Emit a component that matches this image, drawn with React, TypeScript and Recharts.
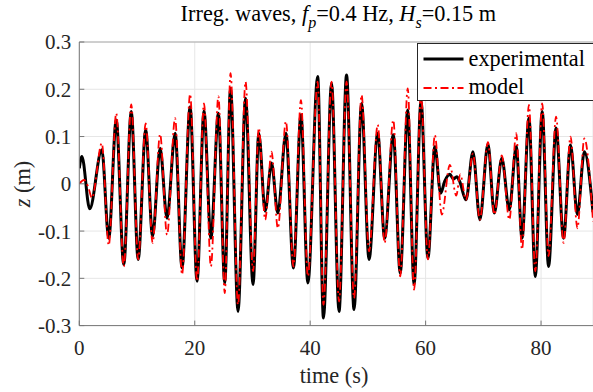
import React from 'react';
import { LineChart, Line, XAxis, YAxis, CartesianGrid, ReferenceLine, Legend } from 'recharts';

const expT = [0.0, 0.45, 1.8, 3.9, 5.1, 6.4, 7.7, 9.0, 10.2, 11.5, 12.7, 14.0, 15.2, 16.6, 17.8, 19.2, 20.4, 21.6, 22.8, 24.1, 25.2, 26.2, 27.5, 28.8, 30.1, 31.1, 32.2, 33.3, 34.4, 35.8, 37.1, 38.4, 39.6, 41.3, 42.3, 43.7, 45.0, 46.3, 47.6, 48.9, 50.2, 51.7, 52.9, 54.4, 55.6, 56.9, 58.0, 59.2, 60.4, 61.6, 62.6, 63.3, 64.2, 64.8, 65.4, 65.9, 67.0, 68.2, 69.4, 70.8, 71.9, 73.2, 74.5, 75.7, 76.7, 77.9, 79.0, 80.2, 81.3, 82.6, 83.9, 85.1, 86.3, 87.5, 89.0];
const expZ = [0.033, 0.058, -0.053, 0.072, -0.115, 0.135, -0.171, 0.153, -0.16, 0.114, -0.111, 0.075, -0.073, 0.107, -0.178, 0.163, -0.206, 0.154, -0.115, 0.149, -0.21, 0.202, -0.27, 0.181, -0.213, 0.107, -0.058, 0.044, -0.062, 0.107, -0.178, 0.146, -0.21, 0.227, -0.284, 0.213, -0.27, 0.23, -0.266, 0.17, -0.16, 0.107, -0.115, 0.104, -0.189, 0.156, -0.213, 0.175, -0.157, 0.079, -0.02, 0.005, 0.02, 0.01, 0.015, 0.005, -0.034, 0.068, -0.076, 0.084, -0.062, 0.054, -0.055, 0.079, -0.115, 0.139, -0.196, 0.153, -0.175, 0.118, -0.115, 0.082, -0.065, 0.068, -0.06];

// Model series
const modT = [0.0, 0.8, 1.5, 2.2, 3.9, 5.1, 6.4, 7.7, 9.0, 10.2, 11.5, 12.7, 14.0, 15.2, 16.6, 17.8, 19.2, 20.4, 21.6, 22.8, 24.1, 25.2, 26.2, 27.5, 28.8, 30.1, 31.1, 32.2, 33.3, 34.4, 35.8, 37.1, 38.4, 39.6, 41.3, 42.3, 43.7, 45.0, 46.3, 47.6, 48.9, 50.2, 51.7, 52.9, 54.4, 55.6, 56.9, 58.0, 59.2, 60.4, 61.6, 62.8, 64.2, 65.3, 66.0, 67.0, 68.2, 69.4, 70.8, 71.9, 73.2, 74.5, 75.7, 76.7, 77.9, 79.0, 80.2, 81.3, 82.6, 83.9, 85.1, 86.3, 87.5, 89.0];
const modZ = [0.0, 0.008, -0.005, -0.03, 0.086, -0.13, 0.149, -0.175, 0.168, -0.16, 0.128, -0.125, 0.105, -0.108, 0.139, -0.192, 0.19, -0.206, 0.17, -0.175, 0.185, -0.231, 0.234, -0.256, 0.216, -0.185, 0.118, -0.076, 0.068, -0.094, 0.132, -0.175, 0.177, -0.196, 0.216, -0.256, 0.216, -0.249, 0.216, -0.242, 0.188, -0.143, 0.125, -0.125, 0.135, -0.196, 0.202, -0.224, 0.19, -0.16, 0.103, -0.065, 0.04, -0.025, 0.02, -0.034, 0.064, -0.076, 0.088, -0.065, 0.06, -0.076, 0.107, -0.139, 0.167, -0.185, 0.17, -0.153, 0.142, -0.125, 0.1, -0.094, 0.096, -0.08];

const xTicks = [0, 20, 40, 60, 80];
const yTicks = [-0.3, -0.2, -0.1, 0, 0.1, 0.2, 0.3];
const seriesNames = ['experimental', 'model'];

const expData = expT.map((t, i) => ({ t, z: expZ[i] }));
const modData = modT.map((t, i) => ({ t, z: modZ[i] }));

const FONT = "'Liberation Serif', 'Times New Roman', Times, serif";
const AXIS = '#777777';
const TICKTXT = '#262626';
const DASH = '8 3.5 2 3.5';

const renderLegend = () => (
  <div style={{ width: 200, height: 57.4, boxSizing: 'border-box', border: '1px solid #262626', background: '#fff' }}>
    <svg width={200} height={56} style={{ display: 'block' }}>
      <line x1={5.5} x2={45.5} y1={15} y2={15} stroke="#000" strokeWidth={3} />
      <text x={50.5} y={22.3} fontFamily={FONT} fontSize={22.3} fill="#000">{seriesNames[0]}</text>
      <line x1={5.5} x2={45.5} y1={44} y2={44} stroke="#ff0000" strokeWidth={1.8} strokeDasharray={DASH} />
      <text x={50.5} y={50.3} fontFamily={FONT} fontSize={22.3} fill="#000">{seriesNames[1]}</text>
    </svg>
  </div>
);

export default function App() {
  return (
    <div style={{ position: 'absolute', left: 0, top: 0, width: 593, height: 392, overflow: 'hidden', background: '#fff' }}>
      <LineChart width={593} height={392} margin={{ top: 42, right: 0, bottom: 0, left: 0 }}>
        <CartesianGrid stroke="#e6e6e6" />
        <XAxis
          dataKey="t"
          type="number"
          domain={[0, 89]}
          ticks={xTicks}
          allowDataOverflow
          height={66.4}
          stroke={AXIS}
          tickSize={-5}
          tickMargin={19}
          tick={{ fill: TICKTXT, fontSize: 21, fontFamily: FONT }}
        />
        <YAxis
          type="number"
          domain={[-0.3, 0.3]}
          ticks={yTicks}
          allowDataOverflow
          width={79.3}
          stroke={AXIS}
          tickSize={-5}
          tickMargin={13}
          tickFormatter={(v: number) => (v === 0 ? '0' : v.toFixed(1))}
          tick={{ fill: TICKTXT, fontSize: 21, fontFamily: FONT }}
        />
        <ReferenceLine y={0.3} stroke="#aaaaaa" ifOverflow="visible" />
        <Line data={expData} dataKey="z" type="monotone" stroke="#000" strokeWidth={3} dot={false} isAnimationActive={false} strokeLinejoin="round" name={seriesNames[0]} />
        <Line data={modData} dataKey="z" type="monotone" stroke="#ff0000" strokeWidth={1.8} strokeDasharray={DASH} dot={false} isAnimationActive={false} name={seriesNames[1]} />
        <Legend
          layout="horizontal"
          verticalAlign="middle"
          align="center"
          wrapperStyle={{ left: 416.7, top: 43.3, width: 200, height: 57.4 }}
          content={renderLegend}
        />
        <text x={338.4} y={21} textAnchor="middle" fontFamily={FONT} fontSize={22.3} fill="#000">
          <tspan>Irreg. waves, </tspan>
          <tspan fontStyle="italic">f</tspan>
          <tspan fontStyle="italic" fontSize={16} dy={7}>p</tspan>
          <tspan dy={-7}>=0.4 Hz, </tspan>
          <tspan fontStyle="italic">H</tspan>
          <tspan fontStyle="italic" fontSize={16} dy={7}>s</tspan>
          <tspan dy={-7}>=0.15 m</tspan>
        </text>
        <text x={334} y={382.5} textAnchor="middle" fontFamily={FONT} fontSize={22.3} fill={TICKTXT}>time (s)</text>
        <text x={29.5} y={184} transform="rotate(-90 29.5 184)" textAnchor="middle" fontFamily={FONT} fontSize={22.3} fill={TICKTXT}>
          <tspan fontStyle="italic">z</tspan>
          <tspan> (m)</tspan>
        </text>
      </LineChart>
    </div>
  );
}
